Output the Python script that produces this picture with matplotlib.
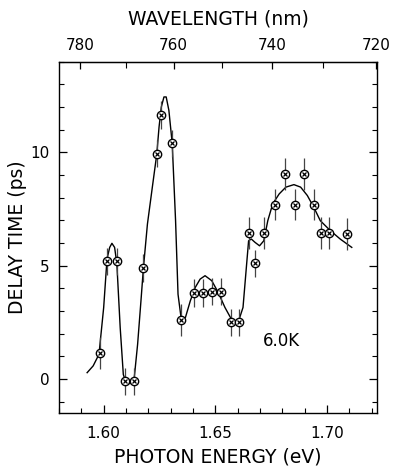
import numpy as np
import matplotlib
matplotlib.use("Agg")
import matplotlib.pyplot as plt

# measured points (photon energy eV, delay ps)
energy = [1.5985, 1.6015, 1.6059, 1.6094, 1.6136, 1.6178, 1.6238, 1.6258,
          1.6307, 1.6348, 1.6403, 1.6447, 1.6484, 1.6525, 1.6568, 1.6608,
          1.6649, 1.6678, 1.6718, 1.6768, 1.6810, 1.6857, 1.6898, 1.6944,
          1.6975, 1.7010, 1.7088]
delay = [1.15, 5.2, 5.2, -0.1, -0.1, 4.9, 9.95, 11.65,
         10.4, 2.6, 3.8, 3.8, 3.85, 3.85, 2.5, 2.5,
         6.45, 5.1, 6.45, 7.7, 9.05, 7.7, 9.05, 7.7,
         6.45, 6.45, 6.4]
err = [0.7, 0.6, 0.6, 0.6, 0.6, 0.6, 0.6, 0.6,
       0.6, 0.7, 0.6, 0.6, 0.6, 0.6, 0.6, 0.6,
       0.7, 0.6, 0.7, 0.7, 0.7, 0.7, 0.7, 0.7,
       0.7, 0.7, 0.7]

# fitted curve
curve_e = [1.5926, 1.5953, 1.5979, 1.6000, 1.6015, 1.6027, 1.6037, 1.6049,
           1.6059, 1.6074, 1.6088, 1.6100, 1.6118, 1.6137, 1.6152, 1.6167,
           1.6178, 1.6196, 1.6218, 1.6238, 1.6248, 1.6258, 1.6270, 1.6280,
           1.6292, 1.6307, 1.6322, 1.6333, 1.6348, 1.6366, 1.6388, 1.6410,
           1.6432, 1.6454, 1.6484, 1.6513, 1.6543, 1.6572, 1.6602, 1.6624,
           1.6639, 1.6649, 1.6661, 1.6678, 1.6698, 1.6717, 1.6735, 1.6757,
           1.6786, 1.6816, 1.6852, 1.6882, 1.6912, 1.6941, 1.6970, 1.7015,
           1.7059, 1.7111]
curve_d = [0.28, 0.58, 1.09, 3.15, 5.3, 5.81, 5.99, 5.81,
           5.1, 2.27, 0.2, -0.16, -0.2, 0.06, 1.53, 3.45,
           4.9, 6.84, 8.47, 9.94, 11.12, 12.0, 12.45, 12.45,
           11.86, 10.4, 6.99, 3.74, 2.6, 2.71, 3.45, 4.04,
           4.41, 4.56, 4.34, 3.82, 3.16, 2.64, 2.49, 3.16,
           4.93, 6.1, 6.18, 6.03, 5.88, 6.1, 6.99, 7.73,
           8.17, 8.47, 8.58, 8.47, 8.1, 7.58, 6.99, 6.55,
           6.18, 5.81]

wl_major = [780, 760, 740, 720]
wl_minor = [770, 750, 730]

plt.rcParams['font.family'] = ['DejaVu Sans']
fig = plt.figure(figsize=(4.0, 4.72), dpi=100)
ax = fig.add_axes([0.1475, 0.125, 0.795, 0.744])

ax.plot(curve_e, curve_d, color='black', lw=1.0)
ax.errorbar(energy, delay, yerr=err, fmt='none', ecolor='#444444', elinewidth=0.9, capsize=0)
ax.plot(energy, delay, 'o', ms=6, mfc='white', mec='black', mew=1.0, ls='none')
ax.plot(energy, delay, 'x', ms=3.5, color='black', mew=0.9, ls='none')

ax.set_xlim(1.580, 1.7224)
ax.set_ylim(-1.5, 14)
ax.set_xticks([1.60, 1.65, 1.70])
ax.set_xticklabels(['1.60', '1.65', '1.70'])
ax.set_xticks(np.arange(1.58, 1.7215, 0.01), minor=True)
ax.set_yticks([0, 5, 10])
ax.set_yticks(np.arange(-1, 14.01, 1), minor=True)
ax.tick_params(which='both', direction='in', top=False, right=True, labelsize=11)
ax.tick_params(axis='x', which='major', pad=9)
ax.tick_params(axis='y', which='major', pad=7)
ax.tick_params(which='major', length=6, width=0.9)
ax.tick_params(which='minor', length=3.5, width=0.8)
for s in ax.spines.values():
    s.set_linewidth(1.0)

ax.set_xlabel('PHOTON ENERGY (eV)', fontsize=13.5, labelpad=5)
ax.set_ylabel('DELAY TIME (ps)', fontsize=13.5, labelpad=2)
ax.text(1.6795, 1.7, '6.0K', fontsize=12, ha='center', va='center')

# wavelength axis on top
top = ax.secondary_xaxis('top', functions=(lambda e: 1239.84 / np.maximum(e, 1e-6),
                                           lambda w: 1239.84 / np.maximum(w, 1e-6)))
top.set_xticks(wl_major)
top.set_xticklabels([str(w) for w in wl_major])
top.set_xticks(wl_minor, minor=True)
top.tick_params(which='both', direction='in', labelsize=11, pad=6)
top.tick_params(which='major', length=5, width=0.9)
top.tick_params(which='minor', length=4, width=0.8)
top.set_xlabel('WAVELENGTH (nm)', fontsize=13.5, labelpad=10)

fig.savefig('out.png', dpi=100)
